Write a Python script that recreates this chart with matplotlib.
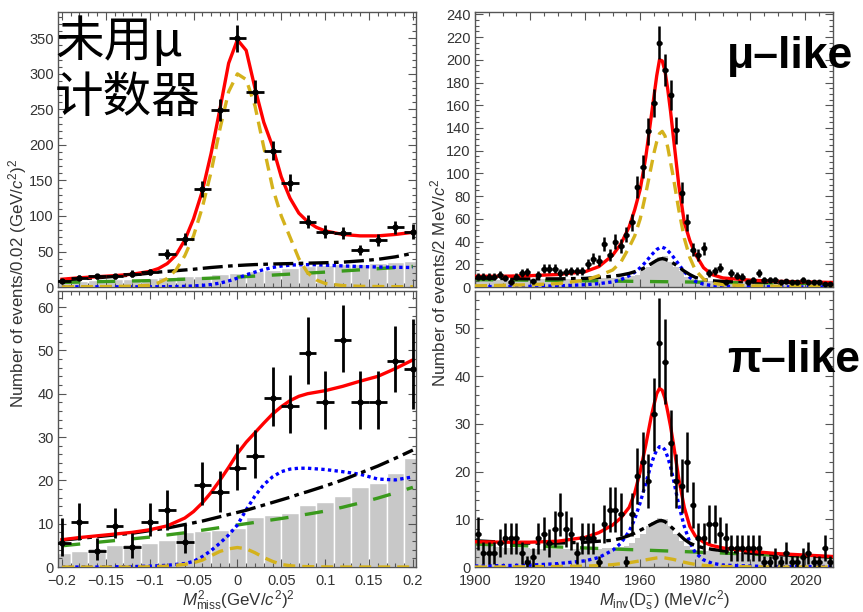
import numpy as np
import matplotlib
matplotlib.use("Agg")
import matplotlib.pyplot as plt
from matplotlib.ticker import MultipleLocator, FuncFormatter

plt.rcParams["font.family"] = ["Liberation Sans", "DejaVu Sans"]
plt.rcParams["mathtext.fontset"] = "custom"
plt.rcParams["mathtext.rm"] = "Liberation Sans"
plt.rcParams["mathtext.it"] = "Liberation Sans:italic"
plt.rcParams["mathtext.bf"] = "Liberation Sans:bold"

# ---------------- left column: M^2_miss (bins of 0.02) ----------------
LX = [-0.2, -0.18, -0.16, -0.14, -0.12, -0.1, -0.08, -0.06, -0.04, -0.02, 0.0,
      0.02, 0.04, 0.06, 0.08, 0.1, 0.12, 0.14, 0.16, 0.18, 0.2]

TL_N = [8, 13, 15, 15, 19, 21, 47, 68, 138, 249, 350, 275, 192, 147, 92, 78, 76, 52, 66, 84, 78]
TL_ERR = [3, 3.6, 3.9, 3.9, 4.4, 4.6, 6.9, 8.2, 11.7, 15.8, 18.7, 16.6, 13.9, 12.1, 9.6, 8.8,
          8.7, 7.2, 8.1, 9.2, 11]
TL_HIST = [8, 9, 10, 11, 12, 13, 14, 15, 16, 18, 20, 22, 24, 27, 29, 31, 32, 33, 34, 35, 37]

TLX = [-0.2, -0.18, -0.16, -0.14, -0.12, -0.1, -0.09, -0.08, -0.07, -0.06, -0.05, -0.04,
       -0.03, -0.02, -0.01, 0.0, 0.01, 0.02, 0.03, 0.04, 0.05, 0.06, 0.07, 0.08, 0.09, 0.1,
       0.12, 0.14, 0.16, 0.18, 0.2]
TL_RED = [11, 13, 14.5, 16, 18, 22, 26, 33, 45, 66, 96, 135, 188, 250, 315, 348, 333, 280,
          232, 198, 155, 125, 104, 92, 84, 79, 74, 72, 72, 74, 77]
TL_YEL = [0.3, 0.4, 0.6, 0.8, 1.2, 2.5, 6, 12, 24, 44, 72, 112, 162, 222, 275, 300, 292, 255,
          197, 140, 100, 70, 40, 20, 10, 5, 2, 1, 0.7, 0.5, 0.4]
TL_DD = [10, 11.5, 13, 15, 17, 19.5, 21, 22, 23, 24, 25, 26.3, 27.5, 28.5, 29.5, 30.3, 31,
         31.6, 32, 32.4, 32.7, 33, 33.3, 33.6, 33.9, 34.2, 35, 36.8, 39, 42.5, 47.5]
TL_BLU = [0.3, 0.3, 0.3, 0.3, 0.3, 0.3, 0.4, 0.5, 0.7, 1, 1.5, 2.3, 3.5, 5.5, 8.5, 12.5, 17,
          21, 24.5, 27.5, 29.5, 30.8, 31.3, 31.5, 31.3, 30.8, 29.7, 28.8, 28.2, 27.8, 27.5]
TL_GRN_X = [-0.2, -0.1, 0.0, 0.1, 0.2]
TL_GRN = [6.5, 9, 14, 21, 29]

BL_N = [5.5, 10.5, 3.8, 9.4, 4.6, 10.3, 13.2, 5.7, 19, 17.2, 22.8, 25.7, 39, 37.1, 49.5, 38.1,
        52.3, 38.1, 38.1, 47.6, 45.7]
BL_LO = [3.0, 4.2, 2.1, 2.7, 2.5, 3.2, 4.6, 2.5, 4.6, 4.4, 5.0, 5.2, 6.5, 6.1, 7.3, 6.3, 7.3,
         6.3, 6.3, 7.2, 9.3]
BL_HI = [5.8, 4.2, 2.9, 4.2, 3.2, 4.4, 4.6, 4.0, 5.3, 5.0, 5.7, 5.9, 7.2, 7.2, 8.2, 7.2, 8.2,
         7.2, 7.2, 8.0, 11.6]
BL_HIST = [3.3, 3.8, 4.4, 5.0, 5.3, 5.6, 6.2, 8.0, 8.3, 8.6, 9.0, 11.5, 12.0, 12.5, 14.3, 15.1,
           16.5, 18.4, 19.3, 21.6, 25.1]

BLX = [-0.2, -0.18, -0.16, -0.14, -0.12, -0.1, -0.08, -0.06, -0.05, -0.04, -0.03, -0.02,
       -0.01, 0.0, 0.01, 0.02, 0.03, 0.04, 0.05, 0.06, 0.07, 0.08, 0.1, 0.12, 0.14, 0.16,
       0.18, 0.2]
BL_RED = [6.3, 6.8, 7.2, 7.6, 8.0, 8.6, 9.5, 11.3, 12.8, 14.8, 17.2, 20, 23, 26.2, 28.8, 31,
          33.2, 35.3, 37, 38.4, 39.4, 40, 40.7, 41.7, 42.9, 44, 45.8, 47.8]
BL_DD = [6.2, 6.6, 7.0, 7.4, 7.8, 8.4, 9.0, 9.8, 10.2, 10.6, 11.1, 11.6, 12.1, 12.6, 13.1,
         13.7, 14.3, 14.9, 15.5, 16.1, 16.8, 17.4, 18.7, 20.1, 21.7, 23.3, 25.1, 27]
BL_GRN = [4.9, 5.3, 5.7, 6.1, 6.5, 6.9, 7.4, 7.9, 8.2, 8.5, 8.8, 9.1, 9.4, 9.7, 10.0, 10.3,
          10.6, 10.9, 11.2, 11.5, 11.9, 12.2, 12.9, 13.8, 14.8, 15.9, 17.1, 18.4]
BL_BLU = [0, 0, 0, 0.05, 0.1, 0.2, 0.4, 0.8, 1.3, 2.4, 3.8, 5.5, 7.4, 9.7, 13.2, 16.4, 19,
          20.8, 22, 22.6, 22.8, 22.8, 22.5, 22, 21.4, 20.3, 20.1, 20.8]
BL_YEL = [0, 0, 0, 0, 0, 0.05, 0.2, 0.6, 1.0, 1.6, 2.6, 3.6, 4.2, 4.5, 4.2, 3.3, 2.2, 1.3,
          0.6, 0.3, 0.15, 0.08, 0.03, 0, 0, 0, 0, 0]

# ---------------- right column: M_inv(Ds) (bins of 2 MeV) ----------------
RB = np.arange(1901, 2030, 2)   # bin centres

TR_N = [9, 9, 9, 9, 11, 8, 4, 9, 12, 13, 5, 11, 16, 16, 16,
        12, 13, 14, 14, 14, 20, 25, 23, 38, 28, 40, 36, 46, 57, 88,
        106, 137, 162, 215, 191, 169, 138, 83, 57, 33, 28, 34, 12, 14, 17,
        4, 12, 10, 9, 4, 6, 12, 6, 6, 6, 4, 5, 4, 4, 6,
        4, 4, 4, 3, 3]
TR_ERR = [3.0, 3.0, 3.0, 3.0, 3.3, 2.8, 2.0, 3.0, 3.5, 3.6, 2.2, 3.3, 4.0, 4.0, 4.0,
          3.5, 3.6, 3.7, 3.7, 3.7, 4.5, 5.0, 4.8, 6.2, 5.3, 6.3, 6.0, 6.8, 7.5, 9.4,
          10.3, 11.7, 12.7, 14.7, 13.8, 13.0, 11.7, 9.1, 7.5, 5.7, 5.3, 5.8, 3.5, 3.7, 4.1,
          2.0, 3.5, 3.2, 3.0, 2.0, 2.4, 3.5, 2.4, 2.4, 2.4, 2.0, 2.2, 2.0, 2.0, 2.4,
          2.0, 2.0, 2.0, 1.7, 1.7]
TR_HIST = [6.5, 6.5, 6.5, 6.5, 6.5, 6.5, 6.5, 6.5, 6.5, 6.5, 7, 7, 7, 7, 7,
           7, 7, 7, 7, 7, 7.5, 7.5, 8, 8, 8, 8, 8.5, 9, 9.5, 11,
           15, 18, 22, 26, 27, 22, 18, 14, 9, 7, 5.5, 5.5, 5, 5, 5,
           5, 5, 5, 5, 5, 4.5, 4.5, 4.5, 4.5, 4.5, 4.3, 4.3, 4.3, 4.3, 4.2,
           4.2, 4, 4, 4, 4]

BR_N = [7, 3, 3, 3, 5, 6, 6, 6, 3, 1, 2, 6, 7, 5, 8,
        11, 8, 7, 3, 6, 6, 6, 1, 9, 12, 12, 11, 1, 11, 19,
        22, 18, 32, 47, 43, 26, 18, 17, 22, 13, 6, 6, 9, 9, 7,
        6, 4, 4, 4, 4, 4, 4, 1, 1, 2, 1, 3, 1, 1, 2,
        3, 1, 1, 4, 1]
BR_ERR = [3.5, 2.3, 2.3, 2.3, 3.0, 3.3, 3.3, 3.3, 2.3, 1.4, 1.9, 3.3, 3.5, 3.0, 3.8,
          4.5, 3.8, 3.5, 2.3, 3.3, 3.3, 3.3, 1.4, 4.0, 4.7, 4.7, 4.5, 1.4, 4.5, 5.9,
          6.3, 5.7, 7.6, 9.3, 8.9, 6.9, 5.7, 5.6, 6.3, 4.9, 3.3, 3.3, 4.0, 4.0, 3.5,
          3.3, 2.7, 2.7, 2.7, 2.7, 2.7, 2.7, 1.4, 1.4, 1.9, 1.4, 2.3, 1.4, 1.4, 1.9,
          2.3, 1.4, 1.4, 2.7, 1.4]
BR_HIST = [4.5, 4.4, 4.3, 4.2, 4.1, 4.0, 4.0, 4.0, 3.9, 3.9, 3.8, 3.8, 3.8, 3.8, 3.8,
           3.8, 3.8, 3.8, 3.8, 3.8, 3.8, 3.8, 3.8, 3.9, 3.9, 4.0, 4.2, 4.5, 5.0, 6.0,
           7.0, 8.5, 9.5, 10.3, 10.0, 8.5, 7.0, 5.5, 4.5, 3.8, 3.4, 3.4, 3.3, 3.3, 3.2,
           3.2, 3.1, 3.1, 3.0, 3.0, 2.9, 2.9, 2.8, 2.8, 2.7, 2.7, 2.6, 2.6, 2.5, 2.5,
           2.4, 2.4, 2.3, 2.3, 2.2]

RX = [1900, 1910, 1920, 1930, 1940, 1945, 1950, 1953, 1956, 1958, 1960, 1962, 1964, 1965,
      1966, 1967, 1968, 1969, 1970, 1971, 1972, 1974, 1976, 1978, 1980, 1983, 1986, 1990,
      2000, 2010, 2020, 2030]
TR_RED = [9.5, 9.5, 10, 11, 13.5, 18, 28, 38, 53, 68, 86, 114, 150, 168, 186, 200, 199, 190,
          174, 155, 133, 90, 57, 41, 29, 17, 11, 8, 6, 5, 4.5, 4]
TR_YEL = [1, 1.5, 2, 3, 6, 10, 15, 22, 35, 45, 60, 82, 106, 118, 128, 135, 137, 133, 123,
          110, 97, 68, 43, 26, 15, 7, 3.5, 2, 1, 0.7, 0.5, 0.4]
TR_BLU = [0.3, 0.4, 0.6, 1, 2, 3, 4.5, 6.5, 10, 13, 17, 22, 28, 30.5, 33, 34.5, 35, 34, 32,
          29.5, 26.5, 20, 13.5, 8.5, 5, 2.5, 1.2, 0.6, 0.3, 0.2, 0.1, 0.1]
TR_DD = [8, 7.5, 7.2, 7.2, 7.6, 8.5, 9.5, 10.5, 12, 13.5, 15, 17.5, 20.5, 22, 23.5, 24.5, 25,
         24.5, 23.5, 22.5, 21, 17.5, 14, 11, 8.5, 6.5, 5.5, 5, 4.5, 4.2, 3.8, 3.5]
R_GRN_X = [1900, 1930, 1968, 2000, 2030]
TR_GRN = [6.5, 5.8, 4.7, 3.8, 3.0]

BR_RED = [5.3, 5.2, 5.2, 5.4, 6.2, 7.2, 8.8, 10.3, 12.5, 15.5, 20, 25.5, 31.5, 34, 36.3,
          37.4, 37, 35.3, 32.5, 29.5, 26, 18.5, 12.5, 8.5, 6.5, 5.2, 4.5, 4, 3.3, 2.8, 2.5, 2.2]
BR_BLU = [0.2, 0.3, 0.4, 0.7, 1.3, 2, 3.5, 5, 7.5, 10, 13.5, 17.5, 21.5, 23.2, 24.5, 25.2,
          25.2, 24.5, 23, 21, 18.5, 13, 8.5, 5.2, 3, 1.5, 0.8, 0.4, 0.2, 0.1, 0.1, 0.1]
BR_DD = [5.5, 5.2, 5, 5, 5.2, 5.4, 5.6, 6, 6.6, 7.1, 7.7, 8.3, 8.9, 9.2, 9.5, 9.7, 9.7, 9.5,
         9, 8.5, 8, 6.9, 5.8, 5, 4.5, 4, 3.7, 3.4, 2.9, 2.6, 2.3, 2.1]
BR_YEL = [0, 0, 0.05, 0.1, 0.2, 0.3, 0.5, 0.7, 0.9, 1.1, 1.3, 1.5, 1.7, 1.8, 1.9, 1.95, 1.95,
          1.9, 1.8, 1.7, 1.6, 1.3, 1.0, 0.75, 0.55, 0.35, 0.2, 0.1, 0.05, 0, 0, 0]
BR_GRN = [4.8, 4.2, 3.4, 2.7, 2.0]

RED, YEL, BLU, GRN, GRY = "#ff0000", "#d4b21c", "#0000ff", "#3a9a1c", "#c8c8c8"
AXC, TXC = "#555555", "#333333"
LW = 2.4


def fmt_num(v, pos):
    v = round(v, 6) + 0.0
    return f"{v:g}".replace("-", "\u2212")


def style(ax, xlim, ylim, xmaj, xmin, ymaj, ymin, xlabels):
    ax.set_xlim(*xlim)
    ax.set_ylim(*ylim)
    ax.xaxis.set_major_locator(MultipleLocator(xmaj))
    ax.xaxis.set_minor_locator(MultipleLocator(xmin))
    ax.yaxis.set_major_locator(MultipleLocator(ymaj))
    ax.yaxis.set_minor_locator(MultipleLocator(ymin))
    ax.xaxis.set_major_formatter(FuncFormatter(fmt_num))
    ax.tick_params(which="both", direction="in", top=True, right=True, color=AXC,
                   labelcolor=TXC, labelsize=10.5, pad=3)
    ax.tick_params(axis="x", pad=5)
    ax.tick_params(which="major", length=6, width=0.8)
    ax.tick_params(which="minor", length=3, width=0.8)
    if not xlabels:
        ax.tick_params(labelbottom=False)
    for s in ax.spines.values():
        s.set_color(AXC)
        s.set_linewidth(1.0)


def comps(ax, hx, hy, bw, edge, cx, red, yel, blu, dd, gx, grn):
    ax.bar(hx, hy, width=bw, color=GRY, edgecolor=edge, linewidth=1.0 if edge != "none" else 0,
           zorder=1)
    ax.plot(gx, grn, color=GRN, lw=LW, dashes=(5.5, 5), zorder=2)
    ax.plot(cx, blu, color=BLU, lw=LW, dashes=(1, 1), zorder=3)
    ax.plot(cx, dd, color="k", lw=LW, dashes=(6, 1.6, 1.4, 1.6), zorder=3)
    ax.plot(cx, yel, color=YEL, lw=LW, dashes=(3.6, 2.1), zorder=3)
    ax.plot(cx, red, color=RED, lw=LW, zorder=4)


fig = plt.figure(figsize=(8.63, 6.12), dpi=100)
ax_tl = fig.add_axes([0.0672, 0.5310, 0.4148, 0.4493])
ax_bl = fig.add_axes([0.0672, 0.0735, 0.4148, 0.4510])
ax_tr = fig.add_axes([0.5504, 0.5310, 0.4148, 0.4493])
ax_br = fig.add_axes([0.5504, 0.0735, 0.4148, 0.4510])

LXLIM = (-0.2045, 0.2035)

# top-left
comps(ax_tl, LX, TL_HIST, 0.02, "white", TLX, TL_RED, TL_YEL, TL_BLU, TL_DD, TL_GRN_X, TL_GRN)
ax_tl.errorbar(LX, TL_N, yerr=TL_ERR, xerr=0.01, fmt="o", ms=3.5, color="k",
               elinewidth=2.0, capsize=0, zorder=5)
style(ax_tl, LXLIM, (0, 387), 0.05, 0.01, 50, 10, False)

# bottom-left
comps(ax_bl, LX, BL_HIST, 0.02, "white", BLX, BL_RED, BL_YEL, BL_BLU, BL_DD, BLX, BL_GRN)
ax_bl.errorbar(LX, BL_N, yerr=[BL_LO, BL_HI], xerr=0.01, fmt="o", ms=3.5, color="k",
               elinewidth=2.0, capsize=0, zorder=5)
style(ax_bl, LXLIM, (0, 63.7), 0.05, 0.01, 10, 2, True)

# top-right
comps(ax_tr, RB, TR_HIST, 2, "none", RX, TR_RED, TR_YEL, TR_BLU, TR_DD, R_GRN_X, TR_GRN)
ax_tr.errorbar(RB, TR_N, yerr=TR_ERR, xerr=1, fmt="o", ms=3.2, color="k",
               elinewidth=1.8, capsize=0, zorder=5)
style(ax_tr, (1900, 2030), (0, 242), 20, 5, 20, 5, False)

# bottom-right
comps(ax_br, RB, BR_HIST, 2, "none", RX, BR_RED, BR_YEL, BR_BLU, BR_DD, R_GRN_X, BR_GRN)
ax_br.errorbar(RB, BR_N, yerr=BR_ERR, xerr=1, fmt="o", ms=3.2, color="k",
               elinewidth=1.8, capsize=0, zorder=5)
style(ax_br, (1900, 2030), (0, 57.8), 20, 5, 10, 2, True)

# labels
fig.text(18 / 863, 1 - 283 / 612, r"Number of events/0.02 (GeV/$c^2$)$^2$", rotation=90,
         ha="center", va="center", fontsize=12.2, color=TXC)
fig.text(438 / 863, 1 - 283 / 612, r"Number of events/2 MeV/$c^2$", rotation=90,
         ha="center", va="center", fontsize=12.2, color=TXC)
fig.text(238 / 863, 1 - 601 / 612, r"$M^2_{\rm miss}$(GeV/$c^2$)$^2$", ha="center",
         va="center", fontsize=12.2, color=TXC)
fig.text(665 / 863, 1 - 601 / 612, r"$M_{\rm inv}$(D$_{\rm s}^{-}$) (MeV/$c^2$)", ha="center",
         va="center", fontsize=12, color=TXC)

cjk = ["Noto Sans CJK SC", "DejaVu Sans"]
fig.text(55 / 863, 1 - 42 / 612, "未用μ", family=cjk, fontsize=35,
         ha="left", va="center", color="k", zorder=10)
fig.text(55 / 863, 1 - 98 / 612, "计数器", family=cjk, fontsize=35,
         ha="left", va="center", color="k", zorder=10)
fig.text(727 / 863, 1 - 68 / 612, "μ\u2013like", fontsize=32, fontweight="bold",
         ha="left", va="baseline", color="k")
fig.text(727 / 863, 1 - 372 / 612, "π\u2013like", fontsize=32, fontweight="bold",
         ha="left", va="baseline", color="k")

fig.savefig("out.png", dpi=100)
